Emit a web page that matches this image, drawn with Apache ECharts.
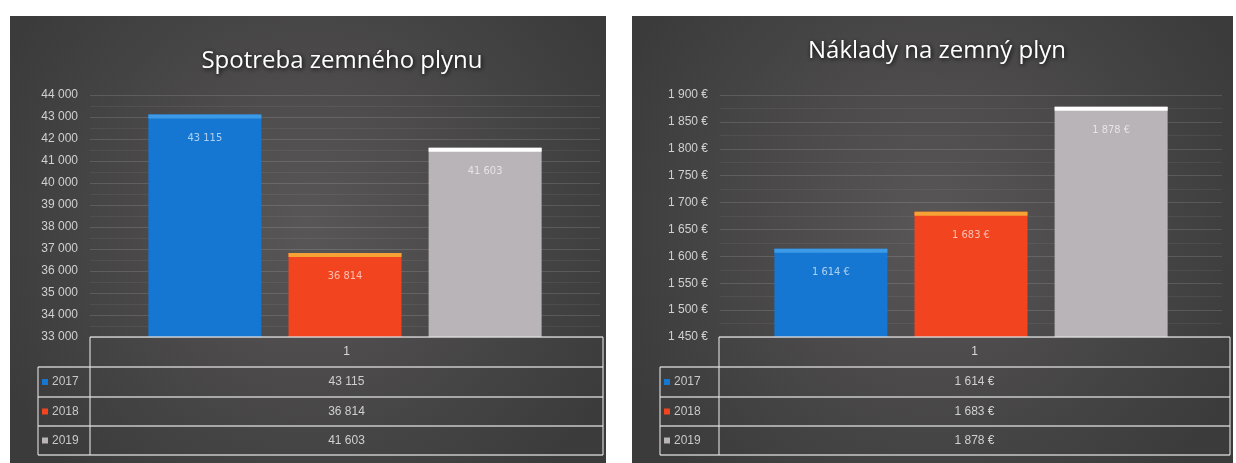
<!DOCTYPE html>
<html><head><meta charset="utf-8">
<script src="https://cdn.jsdelivr.net/npm/echarts@6/dist/echarts.min.js"></script>
<style>html,body{margin:0;padding:0;background:#fff}#c{width:1236px;height:463px}</style>
</head><body><div id="c"></div>
<script>
// ---- data ----
const years = ['2017', '2018', '2019'];
const category = ['1'];
const consumption = [43115, 36814, 41603];
const costs = [1614, 1683, 1878];
const titles = ['Spotreba zemného plynu', 'Náklady na zemný plyn'];
const yMinMax = [[33000, 44000, 1000], [1450, 1900, 50]];
const units = ['', ' €'];

// ---- style ----
const colors = ['#1677d2', '#f1441f', '#b8b4b7'];
const topColors = ['#3d9ae6', '#f7a234', '#ffffff'];
const fmt = n => String(n).replace(/\B(?=(\d{3})+(?!\d))/g, ' ');
const datasets = [consumption, costs];

const grids = [
  { left: 90, right: 1236 - 600, top: 95, bottom: 463 - 337 },
  { left: 720, right: 1236 - 1222, top: 95, bottom: 463 - 337 }
];
const tables = [
  { x0: 38, x1: 90, x2: 603, yearX: 52 },
  { x0: 660, x1: 719, x2: 1230, yearX: 674 }
];

const series = [];
[0, 1].forEach(g => {
  years.forEach((y, i) => {
    series.push({
      type: 'bar', name: y, xAxisIndex: g, yAxisIndex: g,
      data: [datasets[g][i]], barWidth: 113, barGap: '24%',
      itemStyle: { color: colors[i] },
      label: {
        show: true, position: 'insideTop', distance: 18,
        color: 'rgba(255,255,255,0.65)', fontSize: 11, fontFamily: 'Liberation Sans Narrow, DejaVu Sans Condensed, sans-serif',
        formatter: p => fmt(p.value) + units[g]
      },
      z: 2
    });
  });
  years.forEach((y, i) => {
    series.push({
      type: 'pictorialBar', xAxisIndex: g, yAxisIndex: g,
      data: [datasets[g][i]], barWidth: 113, barGap: '24%',
      symbol: 'rect', symbolSize: [113, 4], symbolPosition: 'end', symbolOffset: [0, 0],
      itemStyle: { color: topColors[i] }, z: 3, silent: true
    });
  });
});

// table graphics
const graphic = [];
graphic.push({ type: 'rect', shape: { x: 10, y: 16, width: 596, height: 460 }, z: -10,
  style: { fill: { type: 'radial', x: 0.5, y: 0.45, r: 0.75, colorStops: [{ offset: 0, color: '#595657' }, { offset: 1, color: '#3b3b3b' }] } } });
graphic.push({ type: 'rect', shape: { x: 632, y: 16, width: 601, height: 460 }, z: -10,
  style: { fill: { type: 'radial', x: 0.5, y: 0.45, r: 0.75, colorStops: [{ offset: 0, color: '#595657' }, { offset: 1, color: '#3b3b3b' }] } } });

const lineStyle = { stroke: 'rgba(225,225,225,0.85)', lineWidth: 1.3 };
const rowY = [337, 367, 397, 426, 455];
tables.forEach((t, g) => {
  const L = (x1, y1, x2, y2) => graphic.push({ type: 'line', shape: { x1, y1, x2, y2 }, style: lineStyle, z: 10 });
  L(t.x1, rowY[0], t.x2, rowY[0]);
  L(t.x1, rowY[0], t.x1, rowY[4]);
  L(t.x2, rowY[0], t.x2, rowY[4]);
  L(t.x0, rowY[1], t.x2, rowY[1]);
  L(t.x0, rowY[2], t.x2, rowY[2]);
  L(t.x0, rowY[3], t.x2, rowY[3]);
  L(t.x0, rowY[4], t.x2, rowY[4]);
  L(t.x0, rowY[1], t.x0, rowY[4]);
  const cx = (t.x1 + t.x2) / 2;
  graphic.push({ type: 'text', x: cx, y: (rowY[0] + rowY[1]) / 2, z: 10,
    style: { text: category[0], fill: '#d8d8d8', fontSize: 12, fontFamily: 'Liberation Sans Narrow, sans-serif', align: 'center', verticalAlign: 'middle' } });
  years.forEach((y, i) => {
    const ym = (rowY[i + 1] + rowY[i + 2]) / 2;
    graphic.push({ type: 'rect', shape: { x: t.x0 + 4, y: ym - 3, width: 6, height: 6 }, style: { fill: colors[i] }, z: 10 });
    graphic.push({ type: 'text', x: t.yearX, y: ym, z: 10,
      style: { text: y, fill: '#c8c8c8', fontSize: 12, fontFamily: 'Liberation Sans Narrow, sans-serif', align: 'left', verticalAlign: 'middle' } });
    graphic.push({ type: 'text', x: cx, y: ym, z: 10,
      style: { text: fmt(datasets[g][i]) + units[g], fill: '#d0d0d0', fontSize: 12, fontFamily: 'Liberation Sans Narrow, sans-serif', align: 'center', verticalAlign: 'middle' } });
  });
});

const chart = echarts.init(document.getElementById('c'));
chart.setOption({
  backgroundColor: '#ffffff',
  animation: false,
  title: [
    { text: titles[0], left: 337, top: 44, textAlign: 'center',
      textStyle: { color: '#ffffff', fontSize: 24, fontWeight: 'normal', fontFamily: 'Open Sans', textShadowColor: '#000', textShadowBlur: 5, textShadowOffsetX: 1, textShadowOffsetY: 1 } },
    { text: titles[1], left: 932, top: 34, textAlign: 'center',
      textStyle: { color: '#ffffff', fontSize: 24, fontWeight: 'normal', fontFamily: 'Open Sans', textShadowColor: '#000', textShadowBlur: 5, textShadowOffsetX: 1, textShadowOffsetY: 1 } }
  ],
  grid: grids,
  xAxis: [0, 1].map(g => ({
    type: 'category', gridIndex: g, data: category,
    axisLabel: { show: false }, axisTick: { show: false },
    axisLine: { show: false }
  })),
  yAxis: [0, 1].map(g => ({
    type: 'value', gridIndex: g, min: yMinMax[g][0], max: yMinMax[g][1], interval: yMinMax[g][2],
    axisLine: { show: false }, axisTick: { show: false },
    axisLabel: { color: '#d0d0d0', fontSize: 12, margin: 12, fontFamily: 'Liberation Sans Narrow, sans-serif',
      formatter: v => fmt(v) + units[g] },
    splitLine: { lineStyle: { color: 'rgba(255,255,255,0.13)', width: 1 } },
    minorTick: { show: false, splitNumber: 2 },
    minorSplitLine: { show: true, lineStyle: { color: 'rgba(255,255,255,0.06)', width: 1 } }
  })),
  graphic: graphic,
  series: series
});
</script></body></html>
